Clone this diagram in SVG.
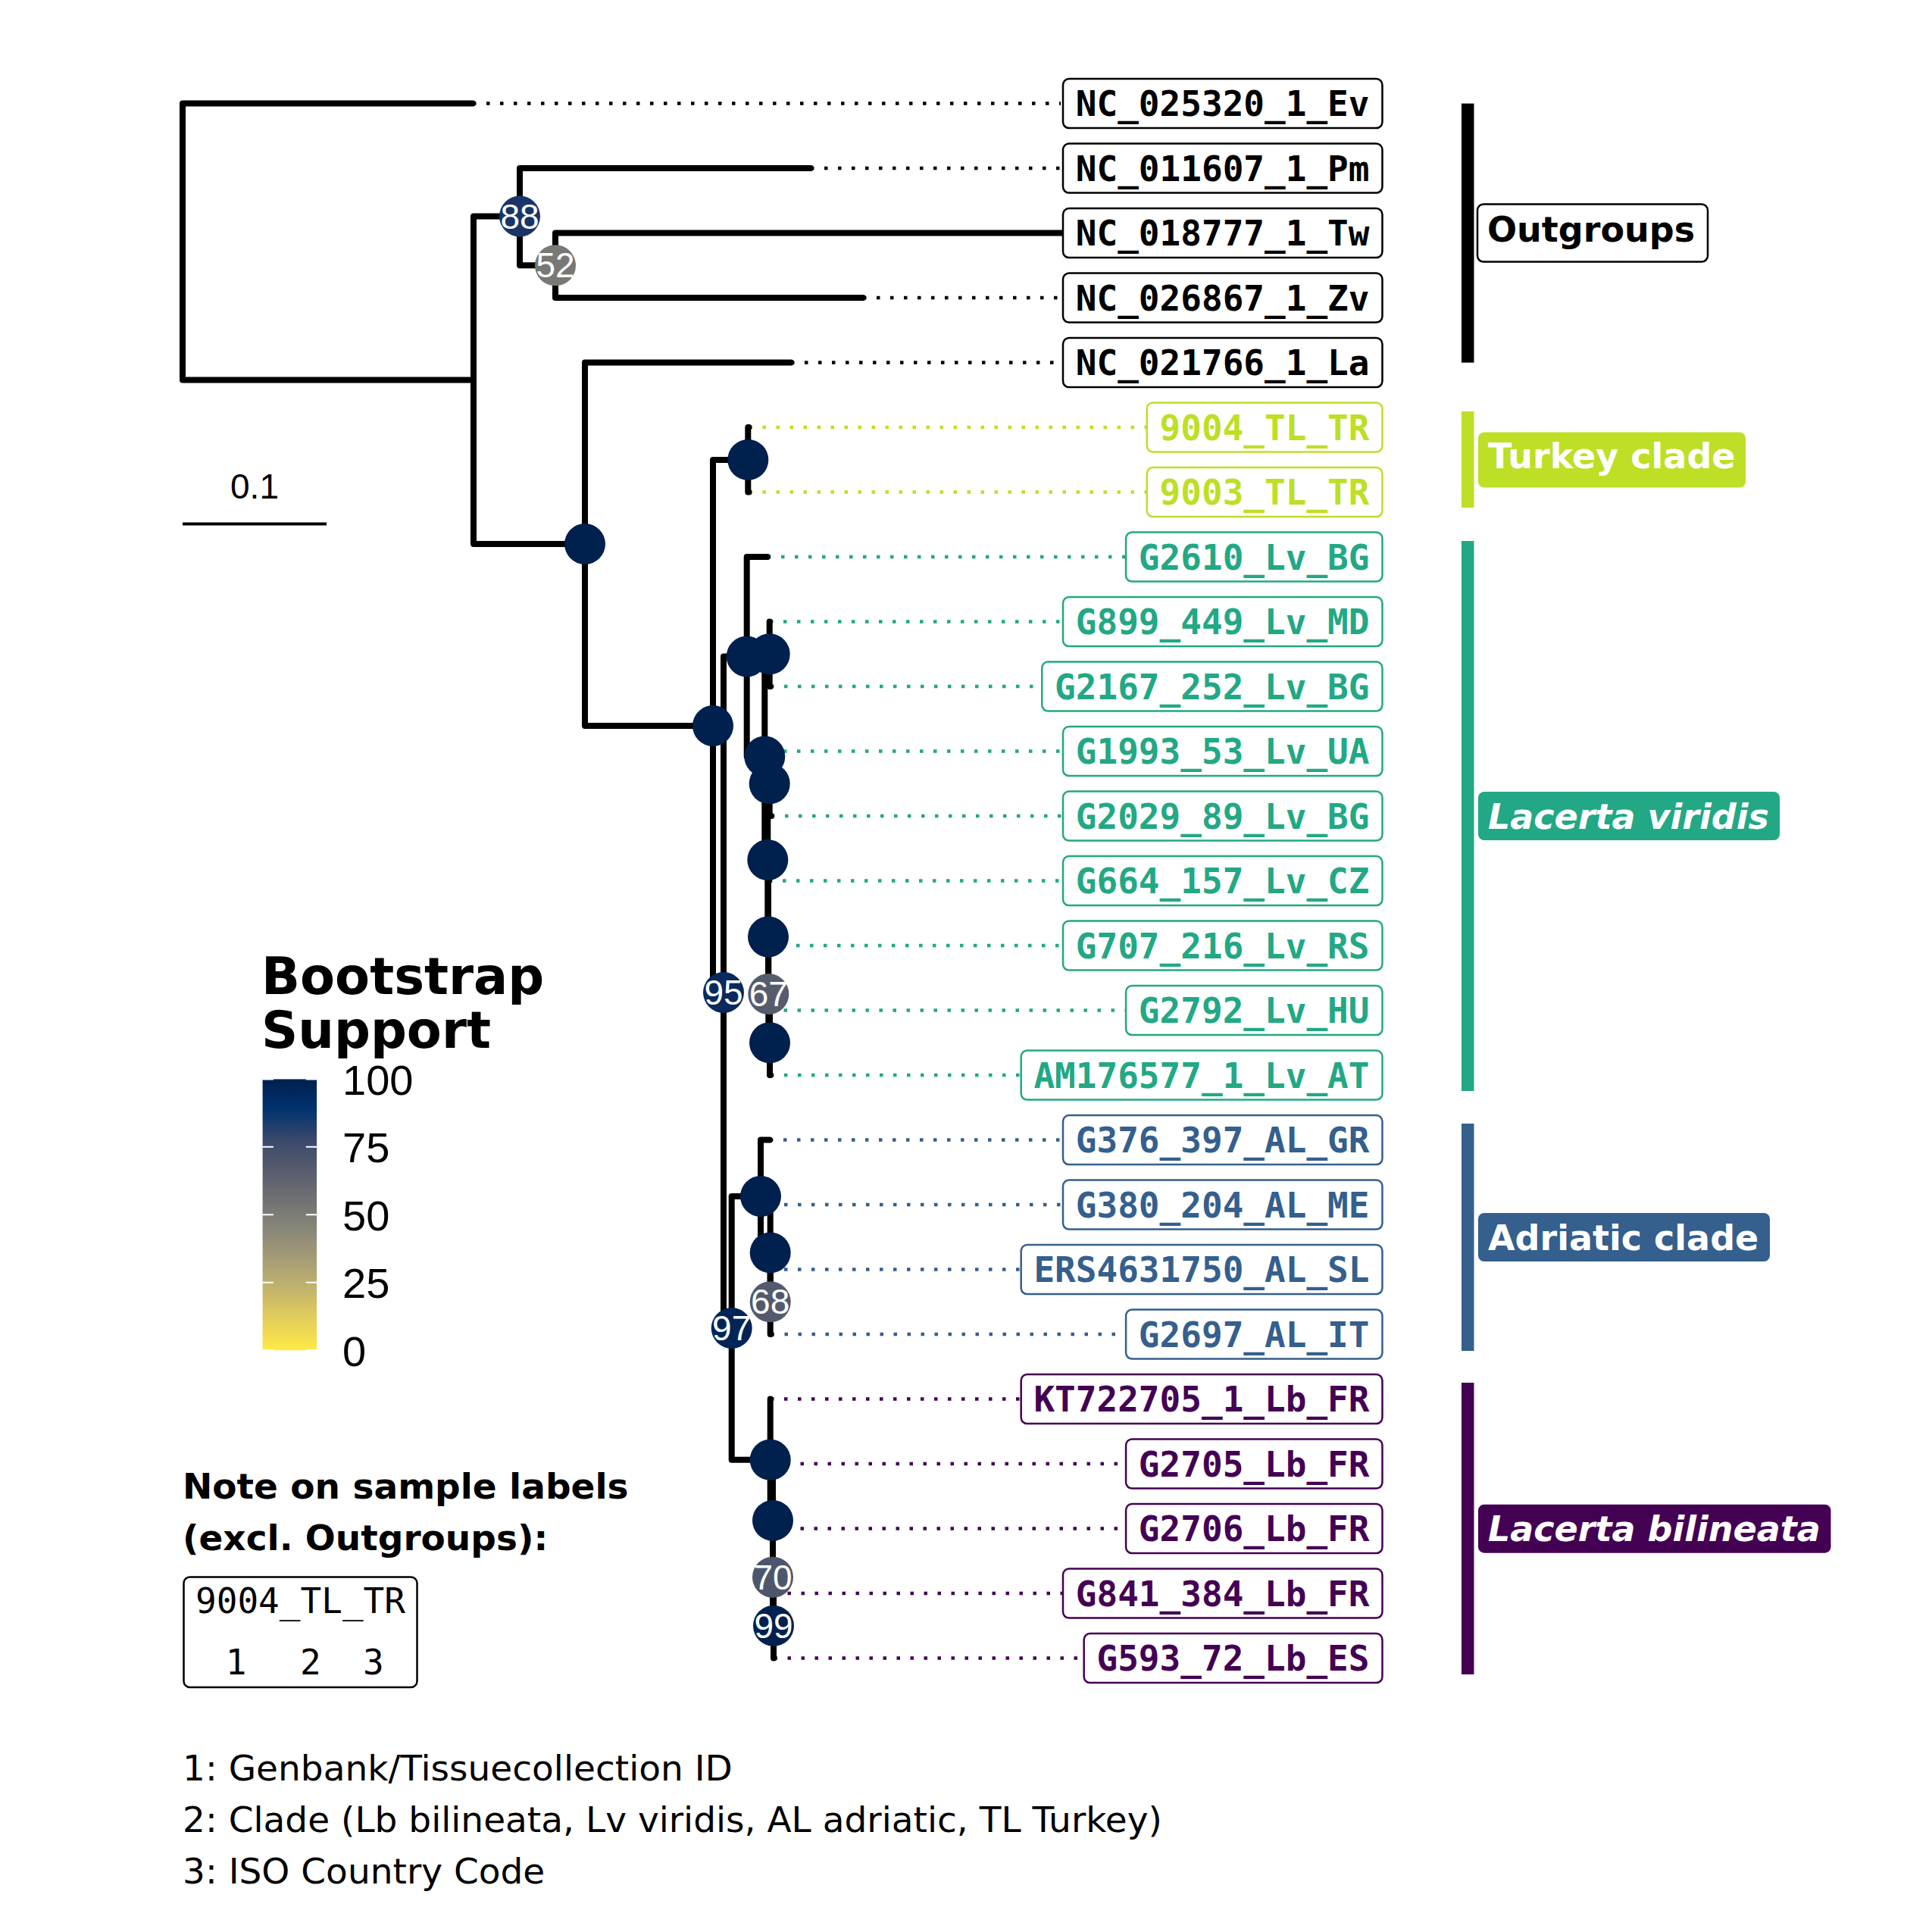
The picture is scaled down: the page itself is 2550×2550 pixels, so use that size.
<svg xmlns="http://www.w3.org/2000/svg" width="2550" height="2550" viewBox="0 0 2550 2550">
<defs>
<linearGradient id="cividis" x1="0" y1="0" x2="0" y2="1">
<stop offset="0" stop-color="#00204D"/>
<stop offset="0.111" stop-color="#00336F"/>
<stop offset="0.222" stop-color="#39486B"/>
<stop offset="0.333" stop-color="#575C6D"/>
<stop offset="0.444" stop-color="#707173"/>
<stop offset="0.556" stop-color="#8A8779"/>
<stop offset="0.667" stop-color="#A69D75"/>
<stop offset="0.778" stop-color="#C4B56C"/>
<stop offset="0.889" stop-color="#E4CF5B"/>
<stop offset="1" stop-color="#FFEA46"/>
</linearGradient>
</defs>
<style>
.edge{stroke:#000;stroke-width:8;stroke-linecap:round;fill:none}
.dot{stroke-width:4.5;stroke-dasharray:4.5 13.5;fill:none}
.og{stroke:#000}.tk{stroke:#BDDF26}.lv{stroke:#22A884}.al{stroke:#355F8D}.lb{stroke:#440154}
.tbox{fill:#fff;stroke-width:2.5}
.ttxt{font-family:"DejaVu Sans Mono",monospace;font-weight:bold;font-size:46px;text-anchor:end}
.fog{fill:#000}.ftk{fill:#BDDF26}.flv{fill:#22A884}.fal{fill:#355F8D}.flb{fill:#440154}
.nlab{font-family:"Liberation Sans",Arial,sans-serif;font-size:46px;fill:#fff;text-anchor:middle}
.clab{font-family:"DejaVu Sans",sans-serif;font-weight:bold;font-size:46px}
.ntitle{font-family:"DejaVu Sans",sans-serif;font-weight:bold;font-size:47px}
.sans{font-family:"DejaVu Sans",sans-serif;font-size:47px}
.lib{font-family:"Liberation Sans",Arial,sans-serif}
</style>
<rect width="2550" height="2550" fill="#fff"/>

<g id="connectors">
<g id="align-lines">
<path class="dot og" d="M624,136.6H1400"/>
<path class="dot og" d="M1070,222.1H1400"/>
<path class="dot og" d="M1139,393.1H1400"/>
<path class="dot og" d="M1044,478.6H1400"/>
<path class="dot tk" d="M988.5,564.1H1820"/>
<path class="dot tk" d="M988.5,649.6H1820"/>
<path class="dot lv" d="M1013,735.1H1820"/>
<path class="dot lv" d="M1016,820.6H1820"/>
<path class="dot lv" d="M1017,906.1H1820"/>
<path class="dot lv" d="M1016,991.6H1820"/>
<path class="dot lv" d="M1018,1077.1H1820"/>
<path class="dot lv" d="M1015,1162.6H1820"/>
<path class="dot lv" d="M1015,1248.1H1820"/>
<path class="dot lv" d="M1016.5,1333.6H1820"/>
<path class="dot lv" d="M1017,1419.1H1820"/>
<path class="dot al" d="M1016,1504.6H1820"/>
<path class="dot al" d="M1017,1590.1H1820"/>
<path class="dot al" d="M1017,1675.6H1820"/>
<path class="dot al" d="M1017.5,1761.1H1820"/>
<path class="dot lb" d="M1017,1846.6H1820"/>
<path class="dot lb" d="M1020.5,1932.1H1820"/>
<path class="dot lb" d="M1020.5,2017.6H1820"/>
<path class="dot lb" d="M1021.5,2103.1H1820"/>
<path class="dot lb" d="M1021.5,2188.6H1820"/>
</g>
<g id="edges">
<path class="edge" d="M241,136.6V501.5M241,136.6H624M241,501.5H625"/>
<path class="edge" d="M625,285.5V718M625,285.5H686M625,718H772"/>
<path class="edge" d="M686,222.1V350.3M686,222.1H1070M686,350.3H733"/>
<path class="edge" d="M733,307.6V393.1M733,307.6H1405M733,393.1H1139"/>
<path class="edge" d="M772,478.6V958M772,478.6H1044M772,958H941"/>
<path class="edge" d="M941,606.9V1310M941,606.9H987.3M941,1310H955"/>
<path class="edge" d="M987.3,564.1V649.6M987.3,564.1H988.5M987.3,649.6H988.5"/>
<path class="edge" d="M955,866.5V1753M955,866.5H985.7M955,1753H965.7"/>
<path class="edge" d="M985.7,735.1V998.5M985.7,735.1H1013M985.7,998.5H1009.3"/>
<path class="edge" d="M1009.3,863.3V1135M1009.3,863.3H1015.7M1009.3,1135H1013.3"/>
<path class="edge" d="M1015.7,820.6V906.1M1015.7,820.6H1016M1015.7,906.1H1017"/>
<path class="edge" d="M1013.3,1034.3V1236.5M1013.3,1034.3H1015.7M1013.3,1236.5H1014"/>
<path class="edge" d="M1015.7,991.6V1077.1M1015.7,991.6H1016M1015.7,1077.1H1018"/>
<path class="edge" d="M1014,1162.6V1312M1014,1162.6H1015M1014,1312H1014.3"/>
<path class="edge" d="M1014.3,1248.1V1376.3M1014.3,1248.1H1015M1014.3,1376.3H1016"/>
<path class="edge" d="M1016,1333.6V1419.1M1016,1333.6H1016.5M1016,1419.1H1017"/>
<path class="edge" d="M965.7,1579V1926.8M965.7,1579H1004M965.7,1926.8H1016.7"/>
<path class="edge" d="M1004,1504.6V1653.4M1004,1504.6H1016M1004,1653.4H1016.7"/>
<path class="edge" d="M1016.7,1590.1V1718.3M1016.7,1590.1H1017"/>
<path class="edge" d="M1016.7,1675.6V1761.1M1016.7,1675.6H1017M1016.7,1761.1H1017.5"/>
<path class="edge" d="M1016.7,1846.6V2006.9M1016.7,1846.6H1017M1016.7,2006.9H1020"/>
<path class="edge" d="M1020,1932.1V2081.7M1020,1932.1H1020.5"/>
<path class="edge" d="M1020,2017.6V2145.9M1020,2017.6H1020.5M1020,2145.9H1021"/>
<path class="edge" d="M1021,2103.1V2188.6M1021,2103.1H1021.5M1021,2188.6H1021.5"/>
</g>
</g>

<g id="tips">
<g id="tip-Ev"><rect class="tbox og" x="1403" y="104.1" width="421.5" height="65" rx="8"/><text class="ttxt fog" x="1807.5" y="153.1">NC_025320_1_Ev</text></g>
<g id="tip-Pm"><rect class="tbox og" x="1403" y="189.6" width="421.5" height="65" rx="8"/><text class="ttxt fog" x="1807.5" y="238.6">NC_011607_1_Pm</text></g>
<g id="tip-Tw"><rect class="tbox og" x="1403" y="275.1" width="421.5" height="65" rx="8"/><text class="ttxt fog" x="1807.5" y="324.1">NC_018777_1_Tw</text></g>
<g id="tip-Zv"><rect class="tbox og" x="1403" y="360.6" width="421.5" height="65" rx="8"/><text class="ttxt fog" x="1807.5" y="409.6">NC_026867_1_Zv</text></g>
<g id="tip-La"><rect class="tbox og" x="1403" y="446.1" width="421.5" height="65" rx="8"/><text class="ttxt fog" x="1807.5" y="495.1">NC_021766_1_La</text></g>
<g id="tip-9004"><rect class="tbox tk" x="1513.8" y="531.6" width="310.7" height="65" rx="8"/><text class="ttxt ftk" x="1807.5" y="580.6">9004_TL_TR</text></g>
<g id="tip-9003"><rect class="tbox tk" x="1513.8" y="617.1" width="310.7" height="65" rx="8"/><text class="ttxt ftk" x="1807.5" y="666.1">9003_TL_TR</text></g>
<g id="tip-G2610"><rect class="tbox lv" x="1486.1" y="702.6" width="338.4" height="65" rx="8"/><text class="ttxt flv" x="1807.5" y="751.6">G2610_Lv_BG</text></g>
<g id="tip-G899"><rect class="tbox lv" x="1403" y="788.1" width="421.5" height="65" rx="8"/><text class="ttxt flv" x="1807.5" y="837.1">G899_449_Lv_MD</text></g>
<g id="tip-G2167"><rect class="tbox lv" x="1375.3" y="873.6" width="449.2" height="65" rx="8"/><text class="ttxt flv" x="1807.5" y="922.6">G2167_252_Lv_BG</text></g>
<g id="tip-G1993"><rect class="tbox lv" x="1403" y="959.1" width="421.5" height="65" rx="8"/><text class="ttxt flv" x="1807.5" y="1008.1">G1993_53_Lv_UA</text></g>
<g id="tip-G2029"><rect class="tbox lv" x="1403" y="1044.6" width="421.5" height="65" rx="8"/><text class="ttxt flv" x="1807.5" y="1093.6">G2029_89_Lv_BG</text></g>
<g id="tip-G664"><rect class="tbox lv" x="1403" y="1130.1" width="421.5" height="65" rx="8"/><text class="ttxt flv" x="1807.5" y="1179.1">G664_157_Lv_CZ</text></g>
<g id="tip-G707"><rect class="tbox lv" x="1403" y="1215.6" width="421.5" height="65" rx="8"/><text class="ttxt flv" x="1807.5" y="1264.6">G707_216_Lv_RS</text></g>
<g id="tip-G2792"><rect class="tbox lv" x="1486.1" y="1301.1" width="338.4" height="65" rx="8"/><text class="ttxt flv" x="1807.5" y="1350.1">G2792_Lv_HU</text></g>
<g id="tip-AM176577"><rect class="tbox lv" x="1347.7" y="1386.6" width="476.8" height="65" rx="8"/><text class="ttxt flv" x="1807.5" y="1435.6">AM176577_1_Lv_AT</text></g>
<g id="tip-G376"><rect class="tbox al" x="1403" y="1472.1" width="421.5" height="65" rx="8"/><text class="ttxt fal" x="1807.5" y="1521.1">G376_397_AL_GR</text></g>
<g id="tip-G380"><rect class="tbox al" x="1403" y="1557.6" width="421.5" height="65" rx="8"/><text class="ttxt fal" x="1807.5" y="1606.6">G380_204_AL_ME</text></g>
<g id="tip-ERS4631750"><rect class="tbox al" x="1347.7" y="1643.1" width="476.8" height="65" rx="8"/><text class="ttxt fal" x="1807.5" y="1692.1">ERS4631750_AL_SL</text></g>
<g id="tip-G2697"><rect class="tbox al" x="1486.1" y="1728.6" width="338.4" height="65" rx="8"/><text class="ttxt fal" x="1807.5" y="1777.6">G2697_AL_IT</text></g>
<g id="tip-KT722705"><rect class="tbox lb" x="1347.7" y="1814.1" width="476.8" height="65" rx="8"/><text class="ttxt flb" x="1807.5" y="1863.1">KT722705_1_Lb_FR</text></g>
<g id="tip-G2705"><rect class="tbox lb" x="1486.1" y="1899.6" width="338.4" height="65" rx="8"/><text class="ttxt flb" x="1807.5" y="1948.6">G2705_Lb_FR</text></g>
<g id="tip-G2706"><rect class="tbox lb" x="1486.1" y="1985.1" width="338.4" height="65" rx="8"/><text class="ttxt flb" x="1807.5" y="2034.1">G2706_Lb_FR</text></g>
<g id="tip-G841"><rect class="tbox lb" x="1403" y="2070.6" width="421.5" height="65" rx="8"/><text class="ttxt flb" x="1807.5" y="2119.6">G841_384_Lb_FR</text></g>
<g id="tip-G593"><rect class="tbox lb" x="1430.7" y="2156.1" width="393.8" height="65" rx="8"/><text class="ttxt flb" x="1807.5" y="2205.1">G593_72_Lb_ES</text></g>
</g>

<g id="internal-nodes">
<g id="node-88"><circle cx="686" cy="285.5" r="27" fill="#1A3468"/><text class="nlab" x="686" y="301.5">88</text></g>
<g id="node-52"><circle cx="733" cy="350.3" r="27" fill="#787875"/><text class="nlab" x="733" y="366.3">52</text></g>
<g id="node-B"><circle cx="772" cy="718" r="27" fill="#00204D"/></g>
<g id="node-C"><circle cx="941" cy="958" r="27" fill="#00204D"/></g>
<g id="node-T"><circle cx="987.3" cy="606.9" r="27" fill="#00204D"/></g>
<g id="node-E"><circle cx="985.7" cy="866.5" r="27" fill="#00204D"/></g>
<g id="node-G"><circle cx="1015.7" cy="863.3" r="27" fill="#00204D"/></g>
<g id="node-F"><circle cx="1009.3" cy="998.5" r="27" fill="#00204D"/></g>
<g id="node-N4"><circle cx="1015.7" cy="1034.3" r="27" fill="#00204D"/></g>
<g id="node-N5"><circle cx="1013.3" cy="1135" r="27" fill="#00204D"/></g>
<g id="node-N6"><circle cx="1014" cy="1236.5" r="27" fill="#00204D"/></g>
<g id="node-95"><circle cx="955" cy="1310" r="27" fill="#0A295C"/><text class="nlab" x="955" y="1326">95</text></g>
<g id="node-67"><circle cx="1014.3" cy="1312" r="27" fill="#575C6D"/><text class="nlab" x="1014.3" y="1328">67</text></g>
<g id="node-N8"><circle cx="1016" cy="1376.3" r="27" fill="#00204D"/></g>
<g id="node-H"><circle cx="1004" cy="1579" r="27" fill="#00204D"/></g>
<g id="node-I"><circle cx="1016.7" cy="1653.4" r="27" fill="#00204D"/></g>
<g id="node-68"><circle cx="1016.7" cy="1718.3" r="27" fill="#535A6D"/><text class="nlab" x="1016.7" y="1734.3">68</text></g>
<g id="node-97"><circle cx="965.7" cy="1753" r="27" fill="#002556"/><text class="nlab" x="965.7" y="1769">97</text></g>
<g id="node-J"><circle cx="1016.7" cy="1926.8" r="27" fill="#00204D"/></g>
<g id="node-K"><circle cx="1020" cy="2006.9" r="27" fill="#00204D"/></g>
<g id="node-70"><circle cx="1020" cy="2081.7" r="27" fill="#4E566C"/><text class="nlab" x="1020" y="2097.7">70</text></g>
<g id="node-99"><circle cx="1021" cy="2145.9" r="27" fill="#002150"/><text class="nlab" x="1021" y="2161.9">99</text></g>
</g>

<g id="clade-labels">
<g id="clade-outgroups"><rect x="1929" y="136.6" width="16.5" height="342" fill="#000"/><rect x="1950" y="269.6" width="304" height="76" rx="8" fill="#fff" stroke="#000" stroke-width="2.5"/><text class="clab" x="1963" y="318.6" fill="#000">Outgroups</text></g>
<g id="clade-turkey"><rect x="1929" y="543" width="16.5" height="127" fill="#BDDF26"/><rect x="1951" y="570.5" width="353" height="73" rx="8" fill="#BDDF26"/><text class="clab" x="1964" y="617.5" fill="#fff">Turkey clade</text></g>
<g id="clade-viridis"><rect x="1929" y="714" width="16.5" height="726" fill="#22A884"/><rect x="1951" y="1045" width="398" height="64" rx="8" fill="#22A884"/><text class="clab" x="1964" y="1094" fill="#fff" font-style="italic">Lacerta viridis</text></g>
<g id="clade-adriatic"><rect x="1929" y="1483" width="16.5" height="300" fill="#355F8D"/><rect x="1951" y="1601" width="385" height="64" rx="8" fill="#355F8D"/><text class="clab" x="1964" y="1649.6" fill="#fff">Adriatic clade</text></g>
<g id="clade-bilineata"><rect x="1929" y="1825" width="16.5" height="385" fill="#440154"/><rect x="1951" y="1985.7" width="465.5" height="64" rx="8" fill="#440154"/><text class="clab" x="1964" y="2034.4" fill="#fff" font-style="italic">Lacerta bilineata</text></g>
</g>

<g id="scale-bar">
<line x1="241" y1="691.6" x2="431" y2="691.6" stroke="#000" stroke-width="4"/>
<text class="lib" x="336" y="658" font-size="46" text-anchor="middle">0.1</text>
</g>

<g id="legend">
<text x="345" y="1312" font-family="DejaVu Sans, sans-serif" font-weight="bold" font-size="67">Bootstrap</text>
<text x="345" y="1383" font-family="DejaVu Sans, sans-serif" font-weight="bold" font-size="67">Support</text>
<rect x="346.6" y="1424.4" width="71.5" height="357.8" fill="url(#cividis)"/>
<g stroke="#fff" stroke-width="2">
<path d="M346.6,1424.4h14.3M403.8,1424.4h14.3"/>
<path d="M346.6,1513.8h14.3M403.8,1513.8h14.3"/>
<path d="M346.6,1603.3h14.3M403.8,1603.3h14.3"/>
<path d="M346.6,1692.7h14.3M403.8,1692.7h14.3"/>
<path d="M346.6,1782.2h14.3M403.8,1782.2h14.3"/>
</g>
<g class="lib" font-size="56">
<text x="452" y="1444.5">100</text>
<text x="452" y="1534">75</text>
<text x="452" y="1623.5">50</text>
<text x="452" y="1713">25</text>
<text x="452" y="1802.5">0</text>
</g>
</g>

<g id="note">
<text class="ntitle" x="241" y="1978">Note on sample labels</text>
<text class="ntitle" x="241" y="2046.3">(excl. Outgroups):</text>
<rect x="242.5" y="2081.5" width="308" height="145.5" rx="8" fill="#fff" stroke="#000" stroke-width="2.5"/>
<text x="396.5" y="2129.3" font-family="DejaVu Sans Mono, monospace" font-size="46" text-anchor="middle">9004_TL_TR</text>
<text font-family="DejaVu Sans Mono, monospace" font-size="46" text-anchor="middle" y="2209.6"><tspan x="311.6">1</tspan><tspan x="409.8">2</tspan><tspan x="492.9">3</tspan></text>
<text class="sans" x="241" y="2349.6">1: Genbank/Tissuecollection ID</text>
<text class="sans" x="241" y="2418">2: Clade (Lb bilineata, Lv viridis, AL adriatic, TL Turkey)</text>
<text class="sans" x="241" y="2486.4">3: ISO Country Code</text>
</g>
</svg>
